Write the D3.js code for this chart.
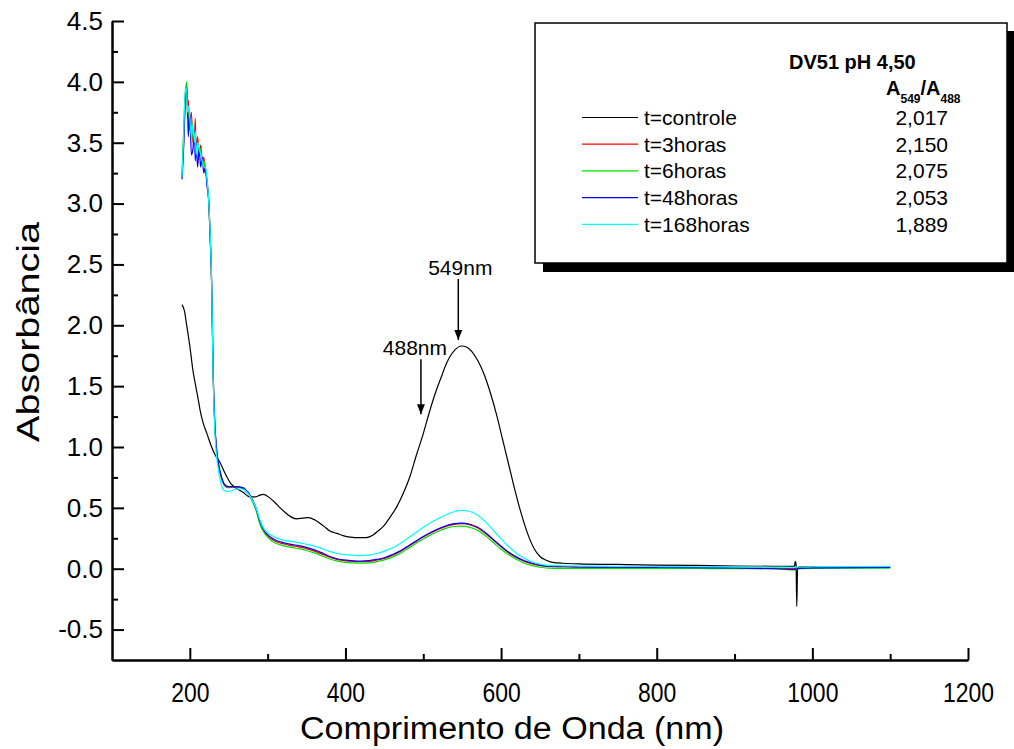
<!DOCTYPE html>
<html>
<head>
<meta charset="utf-8">
<script src="https://cdn.jsdelivr.net/npm/d3@7"></script>
<style>
  body { margin: 0; background: #fff; }
  svg { display: block; font-family: "Liberation Sans", Arial, sans-serif; }
</style>
</head>
<body>
<svg width="1014" height="749"></svg>
<script>
// control spectrum (own wavelength grid, has the detector spike near 980 nm)
const wlControl = [190,193,196,200,204,207,210,213,217,222,
  228,233,239,244,248,254,260,268,277,284,
  290,295,303,310,316,323,329,337,345,352,
  361,372,380,389,398,406,418,427,436,442,
  449,457,466,475,483,491,500,508,517,524,
  530,536,541,549,556,563,570,578,586,594,
  602,610,618,626,634,642,650,658,668,680,
  700,750,800,850,900,950,977,978,979,980,
  981,983,1000,1050,1100];
const absControl = [2.17,2.12,2.00,1.83,1.63,1.52,1.42,1.31,1.20,1.11,
  1.00,0.93,0.87,0.80,0.75,0.69,0.66,0.63,0.59,0.59,
  0.605,0.61,0.58,0.54,0.50,0.46,0.43,0.41,0.415,0.42,
  0.40,0.35,0.31,0.29,0.27,0.26,0.255,0.256,0.28,0.31,
  0.35,0.42,0.51,0.63,0.76,0.93,1.11,1.29,1.47,1.59,
  1.69,1.76,1.80,1.83,1.82,1.78,1.71,1.60,1.45,1.27,
  1.06,0.85,0.64,0.45,0.29,0.17,0.10,0.07,0.05,0.045,
  0.04,0.035,0.03,0.027,0.022,0.02,0.02,0.06,0.04,-0.31,
  0.0,0.015,0.015,0.012,0.01];

// wavelength grid shared by the irradiated samples
const wl = [190,192,194,196,197,198,200,202,204,206,
  207,208,210,212,214,216,218,220,222,224,
  226,228,230,232,234,237,240,245,250,255,
  260,265,269,273,277,281,285,290,295,300,
  306,312,320,330,340,350,360,370,380,390,
  400,410,420,430,440,450,460,470,480,490,
  500,510,520,530,540,549,560,570,580,590,
  600,610,620,630,640,650,660,680,700,750,
  800,850,900,950,978,981,1000,1050,1100];

const abs3h = [3.22,3.50,3.85,3.98,3.70,3.85,3.60,3.75,3.50,3.55,
  3.70,3.45,3.55,3.40,3.48,3.35,3.38,3.28,3.20,3.05,
  2.75,2.35,1.60,1.20,1.00,0.85,0.76,0.68,0.665,0.67,
  0.67,0.665,0.655,0.63,0.60,0.55,0.49,0.38,0.31,0.27,
  0.24,0.22,0.205,0.19,0.18,0.165,0.145,0.12,0.095,0.075,
  0.065,0.06,0.058,0.06,0.07,0.085,0.11,0.14,0.18,0.22,
  0.26,0.295,0.325,0.35,0.365,0.37,0.36,0.335,0.29,0.235,
  0.18,0.13,0.09,0.06,0.04,0.025,0.018,0.015,0.012,0.01,
  0.01,0.008,0.006,0.005,0.0,0.005,0.008,0.01,0.01];

const abs6h = [3.25,3.60,3.90,4.00,3.80,3.75,3.65,3.70,3.55,3.50,
  3.52,3.48,3.50,3.42,3.45,3.36,3.35,3.27,3.19,3.04,
  2.74,2.34,1.60,1.20,1.00,0.85,0.765,0.685,0.67,0.675,
  0.675,0.67,0.66,0.635,0.60,0.545,0.48,0.37,0.30,0.26,
  0.225,0.205,0.19,0.175,0.165,0.15,0.13,0.105,0.08,0.062,
  0.052,0.048,0.046,0.048,0.058,0.073,0.095,0.125,0.165,0.205,
  0.245,0.28,0.31,0.333,0.347,0.35,0.34,0.315,0.27,0.215,
  0.16,0.115,0.075,0.045,0.025,0.012,0.005,0.003,0.002,0.002,
  0.002,0.002,0.0,0.0,-0.01,0.0,0.003,0.005,0.005];

const abs48h = [3.20,3.45,3.80,3.95,3.85,3.55,3.75,3.40,3.45,3.60,
  3.35,3.50,3.30,3.45,3.30,3.38,3.25,3.30,3.15,3.05,
  2.76,2.36,1.62,1.21,1.01,0.86,0.77,0.69,0.675,0.675,
  0.675,0.67,0.665,0.64,0.61,0.56,0.50,0.39,0.32,0.28,
  0.25,0.23,0.215,0.20,0.19,0.175,0.155,0.13,0.10,0.08,
  0.07,0.065,0.063,0.066,0.076,0.09,0.115,0.145,0.185,0.225,
  0.265,0.30,0.33,0.355,0.37,0.375,0.365,0.34,0.295,0.24,
  0.185,0.135,0.095,0.065,0.045,0.03,0.022,0.018,0.015,0.012,
  0.01,0.008,0.006,0.0,-0.005,0.0,0.006,0.008,0.01];

const abs168h = [3.22,3.55,3.90,3.95,3.75,3.80,3.70,3.55,3.65,3.50,
  3.60,3.40,3.50,3.45,3.40,3.35,3.30,3.30,3.20,3.05,
  2.78,2.37,1.58,1.15,0.95,0.80,0.70,0.64,0.635,0.645,
  0.655,0.655,0.65,0.63,0.60,0.555,0.50,0.40,0.33,0.295,
  0.27,0.25,0.235,0.225,0.215,0.20,0.185,0.165,0.14,0.125,
  0.115,0.11,0.108,0.112,0.125,0.145,0.17,0.205,0.25,0.295,
  0.34,0.38,0.415,0.445,0.47,0.48,0.47,0.44,0.385,0.315,
  0.245,0.18,0.125,0.085,0.055,0.037,0.028,0.024,0.022,0.02,
  0.018,0.016,0.015,0.014,0.012,0.014,0.016,0.018,0.02];

const seriesNames = ["t=controle", "t=3horas", "t=6horas", "t=48horas", "t=168horas"];
const seriesColors = ["#000000", "#ff0000", "#00e000", "#0000ff", "#00ffff"];
const ratios = ["2,017", "2,150", "2,075", "2,053", "1,889"];

const xTicks = [200, 400, 600, 800, 1000, 1200];
const xMinorTicks = [300, 500, 700, 900, 1100];
const yTicks = [-0.5, 0, 0.5, 1, 1.5, 2, 2.5, 3, 3.5, 4, 4.5];
const yTickLabels = ["-0.5", "0.0", "0.5", "1.0", "1.5", "2.0", "2.5", "3.0", "3.5", "4.0", "4.5"];
const yMinorTicks = [-0.25, 0.25, 0.75, 1.25, 1.75, 2.25, 2.75, 3.25, 3.75, 4.25];

// peak markers: [label, wavelength, arrow top, arrow tip]
const peakMarks = [["549nm", 545, 2.38, 1.88], ["488nm", 497, 1.72, 1.27]];

let svg = d3.select("svg");
let x = d3.scaleLinear().domain([100, 1200]).range([112, 968]);
let y = d3.scaleLinear().domain([-0.75, 4.5]).range([660, 21]);

let series = [
  wlControl.map((w, i) => [w, absControl[i]]),
  wl.map((w, i) => [w, abs3h[i]]),
  wl.map((w, i) => [w, abs6h[i]]),
  wl.map((w, i) => [w, abs48h[i]]),
  wl.map((w, i) => [w, abs168h[i]])
];

let line = d3.line().x(d => x(d[0])).y(d => y(d[1])).curve(d3.curveMonotoneX);

svg.append("g").selectAll("path")
  .data(series)
  .enter().append("path")
  .attr("d", line)
  .attr("fill", "none")
  .attr("stroke", (d, i) => seriesColors[i])
  .attr("stroke-width", 1.2);

// axes, ticks pointing inwards
let xAxis = svg.append("g")
  .attr("transform", "translate(0,660)")
  .call(d3.axisBottom(x).tickValues(xTicks).tickSizeInner(-12).tickSizeOuter(0).tickPadding(22).tickFormat(d3.format("d")));
svg.append("g")
  .attr("transform", "translate(0,660)")
  .call(d3.axisBottom(x).tickValues(xMinorTicks).tickSizeInner(-6).tickSizeOuter(0).tickFormat(""));

let yAxis = svg.append("g")
  .attr("transform", "translate(112,0)")
  .call(d3.axisLeft(y).tickValues(yTicks).tickSizeInner(-12).tickSizeOuter(0).tickPadding(9).tickFormat((d, i) => yTickLabels[i]));
svg.append("g")
  .attr("transform", "translate(112,0)")
  .call(d3.axisLeft(y).tickValues(yMinorTicks).tickSizeInner(-6).tickSizeOuter(0).tickFormat(""));

svg.selectAll(".domain, .tick line").attr("stroke", "#000").attr("stroke-width", 2);

xAxis.selectAll("text")
  .attr("font-family", "Liberation Sans, Arial, sans-serif")
  .attr("font-size", 28)
  .attr("fill", "#000")
  .attr("transform", "scale(0.82,1)");
yAxis.selectAll("text")
  .attr("font-family", "Liberation Sans, Arial, sans-serif")
  .attr("font-size", 26)
  .attr("fill", "#000");

svg.append("text")
  .attr("x", 512).attr("y", 739)
  .attr("text-anchor", "middle")
  .attr("font-size", 31)
  .attr("textLength", 424)
  .attr("lengthAdjust", "spacingAndGlyphs")
  .text("Comprimento de Onda (nm)");

svg.append("text")
  .attr("transform", "translate(39,332) rotate(-90)")
  .attr("text-anchor", "middle")
  .attr("font-size", 31)
  .attr("textLength", 220)
  .attr("lengthAdjust", "spacingAndGlyphs")
  .text("Absorbância");

// arrows to the two bands
svg.append("defs").append("marker")
  .attr("id", "head")
  .attr("viewBox", "0 0 10 10")
  .attr("refX", 10).attr("refY", 5)
  .attr("markerWidth", 10).attr("markerHeight", 10)
  .attr("markerUnits", "userSpaceOnUse")
  .attr("orient", "auto")
  .append("path").attr("d", "M0,1L10,5L0,9Z").attr("fill", "#000");

let marks = svg.append("g").selectAll("g").data(peakMarks).enter().append("g");
marks.append("line")
  .attr("x1", d => x(d[1])).attr("x2", d => x(d[1]))
  .attr("y1", d => y(d[2])).attr("y2", d => y(d[3]))
  .attr("stroke", "#000").attr("stroke-width", 1.5)
  .attr("marker-end", "url(#head)");
marks.append("text")
  .attr("x", (d, i) => x(d[1]) + (i == 0 ? 2 : -6))
  .attr("y", d => y(d[2]) - 4)
  .attr("text-anchor", "middle")
  .attr("font-size", 21)
  .text(d => d[0]);

// legend box with drop shadow
let lg = svg.append("g");
lg.append("rect").attr("x", 543).attr("y", 31).attr("width", 471).attr("height", 241).attr("fill", "#000");
lg.append("rect").attr("x", 535).attr("y", 23).attr("width", 472).attr("height", 240)
  .attr("fill", "#fff").attr("stroke", "#000").attr("stroke-width", 1.5);

lg.append("text").attr("x", 789).attr("y", 69)
  .attr("font-size", 20).attr("font-weight", "bold")
  .text("DV51 pH 4,50");

let ratioHead = lg.append("text").attr("x", 886).attr("y", 95)
  .attr("font-size", 20).attr("font-weight", "bold");
ratioHead.append("tspan").text("A");
ratioHead.append("tspan").attr("font-size", 12).attr("dy", 8).text("549");
ratioHead.append("tspan").attr("dy", -8).text("/A");
ratioHead.append("tspan").attr("font-size", 12).attr("dy", 8).text("488");

let rows = lg.selectAll(".row").data(seriesNames).enter().append("g")
  .attr("class", "row")
  .attr("transform", (d, i) => "translate(0," + (117.5 + i * 26.7) + ")");
rows.append("line")
  .attr("x1", 582).attr("x2", 638)
  .attr("stroke", (d, i) => seriesColors[i]).attr("stroke-width", 1.2);
rows.append("text")
  .attr("x", 644).attr("y", 7.5)
  .attr("font-size", 21)
  .text(d => d);
rows.append("text")
  .attr("x", 948).attr("y", 7.5)
  .attr("text-anchor", "end")
  .attr("font-size", 21)
  .text((d, i) => ratios[i]);
</script>
</body>
</html>
